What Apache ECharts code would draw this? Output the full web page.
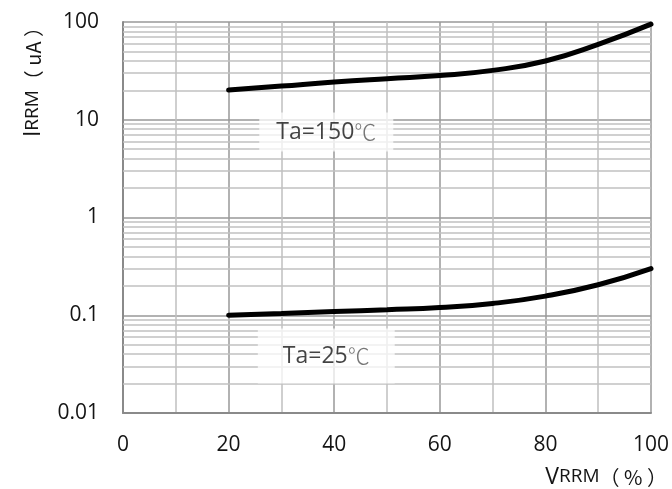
<!DOCTYPE html>
<html>
<head>
<meta charset="utf-8">
<script src="https://cdn.jsdelivr.net/npm/echarts@6/dist/echarts.min.js"></script>
<style>
html,body{margin:0;padding:0;background:#fff;}
#c{width:672px;height:489px;}
</style>
</head>
<body>
<div id="c"></div>
<script>
// ---- data ----
const vrrm = [20, 30, 40, 50, 60, 70, 80, 90, 100];
const irrm150 = [20.1, 22.1, 24.3, 26.3, 28.3, 32.0, 39.9, 59.0, 95];
const irrm25 = [0.1, 0.104, 0.109, 0.114, 0.12, 0.132, 0.157, 0.205, 0.3];
const yMinorTicks = [0.02,0.03,0.04,0.05,0.06,0.07,0.08,0.09,
                     0.2,0.3,0.4,0.5,0.6,0.7,0.8,0.9,
                     2,3,4,5,6,7,8,9,
                     20,30,40,50,60,70,80,90];
const curveLabels = [
  {x: 38.5, y: 7.5, name: 'Ta=150', unit: '℃', pad: [8, 17]},
  {x: 38.5, y: 0.0383, name: 'Ta=25', unit: '℃', pad: [16, 25]}
];

const FONT = '"Open Sans", "Noto Sans CJK SC", sans-serif';
const CJK = '"Noto Sans CJK SC", sans-serif';
const TXT = '#141414';
const chart = echarts.init(document.getElementById('c'));

const titleRich = {
  a: {fontSize: 23, fontFamily: FONT, fill: TXT, color: TXT},
  b: {fontSize: 19, fontFamily: FONT, fill: TXT, color: TXT},
  c: {fontSize: 20, fontFamily: CJK, fill: TXT, color: TXT}
};

const option = {
  animation: false,
  backgroundColor: '#fff',
  grid: {left: 123, right: 20, top: 22, bottom: 76, containLabel: false},
  xAxis: {
    type: 'value', min: 0, max: 100, interval: 20,
    axisLine: {show: true, lineStyle: {color: '#8a8a8a', width: 2}},
    axisTick: {show: false},
    axisLabel: {color: TXT, fontSize: 21, fontFamily: FONT, margin: 22},
    splitLine: {show: true, lineStyle: {color: '#999', width: 1.5}},
    minorTick: {show: false, splitNumber: 2},
    minorSplitLine: {show: true, lineStyle: {color: '#c0c0c0', width: 1.5}}
  },
  yAxis: {
    type: 'log', logBase: 10, min: 0.01, max: 100,
    axisLine: {show: true, lineStyle: {color: '#8a8a8a', width: 2}},
    axisTick: {show: false},
    axisLabel: {color: TXT, fontSize: 21, fontFamily: FONT, margin: 24,
      formatter: function (v) { return String(+v.toPrecision(6)); }},
    splitLine: {show: true, lineStyle: {color: '#999', width: 1.5}}
  },
  graphic: [
    {
      type: 'text', x: 33, y: 77, rotation: Math.PI / 2,
      style: {
        text: '{a|I}{b|RRM}{c|（ uA ）}',
        align: 'center', verticalAlign: 'middle',
        fill: TXT, rich: titleRich
      }
    },
    {
      type: 'text', x: 667, y: 477,
      style: {
        text: '{a|V}{b|RRM}{c|（ % ）}',
        align: 'right', verticalAlign: 'middle',
        fill: TXT, rich: titleRich
      }
    }
  ],
  series: [
    {
      type: 'line', data: [], z: 1, silent: true,
      markLine: {
        silent: true, symbol: 'none', animation: false,
        label: {show: false},
        lineStyle: {color: '#c0c0c0', width: 1.5, type: 'solid'},
        emphasis: {disabled: true},
        data: yMinorTicks.map(v => ({yAxis: v}))
      }
    },
    {
      type: 'scatter', z: 5, silent: true, symbolSize: 0,
      data: curveLabels.map(d => ({
        value: [d.x, d.y],
        label: {
          show: true, position: 'inside',
          formatter: '{t|' + d.name + '}{u|' + d.unit + '}',
          lineHeight: 23,
          backgroundColor: 'rgba(255,255,255,0.92)',
          padding: d.pad,
          rich: {
            t: {fontSize: 23, fontFamily: FONT, color: TXT, lineHeight: 23},
            u: {fontSize: 22, fontFamily: CJK, color: '#555', lineHeight: 23, fontWeight: 300}
          }
        }
      }))
    },
    {
      type: 'line', z: 10, smooth: 0.5, symbol: 'none',
      lineStyle: {color: '#000', width: 5, cap: 'round'},
      data: vrrm.map((x, i) => [x, irrm150[i]])
    },
    {
      type: 'line', z: 10, smooth: 0.5, symbol: 'none',
      lineStyle: {color: '#000', width: 5, cap: 'round'},
      data: vrrm.map((x, i) => [x, irrm25[i]])
    }
  ]
};
chart.setOption(option);
</script>
</body>
</html>
